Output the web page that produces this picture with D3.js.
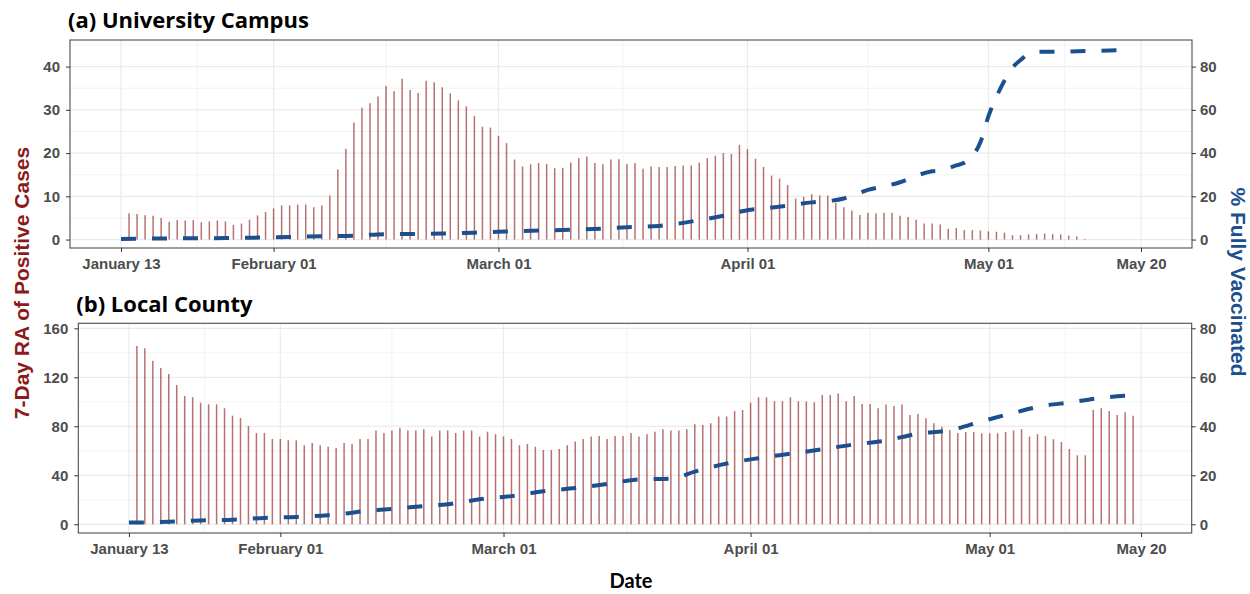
<!DOCTYPE html>
<html>
<head>
<meta charset="utf-8">
<script src="https://cdn.jsdelivr.net/npm/d3@7"></script>
<style>
  body { margin: 0; background: #fff; }
  svg text { font-family: "Liberation Sans", Arial, sans-serif; }
</style>
</head>
<body>
<svg id="chart" width="1250" height="594"></svg>
<script>
// ---- data ----
const tickDates = ["2021-01-13", "2021-02-01", "2021-03-01", "2021-04-01", "2021-05-01", "2021-05-20"];
const tickLabels = ["January 13", "February 01", "March 01", "April 01", "May 01", "May 20"];

// 7-day rolling average of positive cases, daily from Jan 14
const campusStart = "2021-01-14";
const campusCases = [
  6.1, 5.9, 5.6, 5.5, 5.0, 4.1, 4.5, 4.4, 4.5, 4.0, 4.2, 4.4, 4.2, 3.4, 3.7, 4.6, 5.6, 6.4,
  7.2, 7.9, 7.9, 8.1, 8.1, 7.5, 7.9, 10.2, 16.2, 21.0, 27.1, 30.5, 31.5, 33.1, 35.5, 34.3, 37.2, 34.6, 33.9, 36.7, 36.4, 35.2, 33.8, 32.2, 30.8, 28.6, 26.1, 25.9,
  24.0, 22.3, 18.5, 16.9, 17.4, 17.7, 17.5, 16.5, 16.6, 17.8, 18.8, 19.2, 17.7, 17.4, 18.5, 18.6, 17.5, 17.7, 16.4, 16.9, 16.8, 16.8, 17.0, 17.1, 17.1, 17.8, 18.8, 19.4, 20.0, 19.8, 21.9,
  20.9, 18.7, 16.8, 14.8, 14.1, 12.6, 9.5, 9.9, 10.5, 10.2, 10.2, 8.5, 7.5, 6.7, 5.7, 6.2, 6.0, 6.2, 6.2, 5.5, 5.2, 4.6, 3.7, 3.7, 3.5, 2.5, 2.7, 2.2, 2.2, 2.1,
  1.9, 1.8, 1.6, 1.0, 1.0, 1.2, 1.3, 1.4, 1.3, 1.2, 0.9, 0.7, 0.2
];

const countyStart = "2021-01-14";
const countyCases = [
  145.6, 143.7, 133.6, 127.6, 122.7, 113.7, 104.8, 103.7, 99.3, 98.0, 98.0, 94.7, 88.7, 86.8, 80.3, 74.6, 74.6, 69.7,
  69.7, 68.6, 68.6, 64.5, 66.4, 64.5, 63.4, 62.3, 66.4, 65.6, 69.7, 69.7, 76.5, 74.6, 76.5, 78.6, 76.5, 76.5, 77.6, 71.6, 76.5, 76.5, 74.6, 76.5, 76.5, 71.6, 75.5, 73.5,
  71.6, 69.7, 64.5, 65.6, 63.4, 60.7, 60.7, 61.5, 64.5, 67.5, 69.7, 71.6, 72.1, 69.7, 72.1, 72.1, 74.6, 71.6, 73.5, 75.5, 77.6, 76.5, 76.5, 77.6, 81.6, 81.1, 82.4, 87.9, 87.9, 92.5, 93.3,
  99.3, 103.7, 103.7, 100.4, 100.4, 103.7, 100.4, 100.3, 99.6, 105.6, 105.6, 106.8, 100.4, 104.8, 98.2, 98.2, 94.7, 97.7, 96.6, 97.7, 89.3, 90.1, 86.5, 82.4, 79.7, 77.0, 74.6, 75.4, 75.4, 74.3,
  74.3, 74.3, 75.4, 76.5, 77.6, 71.6, 73.5, 72.1, 69.4, 67.2, 61.5, 56.3, 56.3, 93.3, 94.7, 92.5, 89.3, 91.4, 88.7
];

// % fully vaccinated
const campusVacDates = ["2021-01-13", "2021-01-18", "2021-01-22", "2021-01-26", "2021-01-30", "2021-02-03", "2021-02-07", "2021-02-11", "2021-02-14", "2021-02-18", "2021-02-22", "2021-02-26", "2021-03-02", "2021-03-06", "2021-03-10", "2021-03-14", "2021-03-17", "2021-03-21", "2021-03-23", "2021-03-26", "2021-03-29", "2021-04-01", "2021-04-03", "2021-04-06", "2021-04-09", "2021-04-11", "2021-04-13", "2021-04-14", "2021-04-16", "2021-04-18", "2021-04-20", "2021-04-22", "2021-04-24", "2021-04-25", "2021-04-27", "2021-04-28", "2021-04-29", "2021-04-30", "2021-05-01", "2021-05-02", "2021-05-03", "2021-05-04", "2021-05-05", "2021-05-06", "2021-05-07", "2021-05-11", "2021-05-18"];
const campusVac = [0.3, 0.5, 0.6, 0.7, 0.9, 1.2, 1.5, 1.8, 2.4, 2.6, 2.8, 3.2, 3.7, 4.2, 4.5, 5.1, 5.7, 6.3, 7.2, 9.0, 11.0, 13.6, 14.4, 15.7, 17.2, 17.8, 19.0, 20.3, 23.0, 24.6, 26.5, 29.5, 31.6, 32.0, 34.3, 35.5, 38.5, 45.0, 57.0, 66.0, 73.5, 79.5, 83.0, 86.0, 86.8, 87.0, 87.7];

const countyVacDates = ["2021-01-13", "2021-01-18", "2021-01-22", "2021-01-26", "2021-01-30", "2021-02-03", "2021-02-07", "2021-02-10", "2021-02-11", "2021-02-14", "2021-02-18", "2021-02-22", "2021-02-26", "2021-03-02", "2021-03-06", "2021-03-10", "2021-03-14", "2021-03-18", "2021-03-22", "2021-03-25", "2021-03-29", "2021-04-02", "2021-04-06", "2021-04-10", "2021-04-14", "2021-04-18", "2021-04-22", "2021-04-26", "2021-04-30", "2021-05-04", "2021-05-08", "2021-05-11", "2021-05-15", "2021-05-19"];
const countyVac = [0.7, 1.0, 1.6, 1.9, 2.6, 3.0, 3.7, 4.7, 5.2, 6.0, 7.2, 8.2, 10.2, 11.5, 13.5, 14.8, 16.5, 18.3, 18.6, 21.5, 24.8, 27.0, 28.8, 30.6, 32.6, 34.2, 37.0, 38.4, 42.0, 45.5, 48.5, 49.7, 51.6, 52.7];

// ---- drawing ----
const parse = d3.timeParse("%Y-%m-%d");
const svg = d3.select("#chart");
const red = "#8B1A1A", blue = "#1B4F8E";

const panels = [
  { title: "(a) University Campus", titleY: 28, left: 70, top: 40, right: 1192, bottom: 248,
    start: campusStart, cases: campusCases, vacDates: campusVacDates, vac: campusVac,
    leftTicks: [0, 10, 20, 30, 40], leftMinor: [5, 15, 25, 35, 45], rightTicks: [0, 20, 40, 60, 80],
    rightDomain: [-3.9, 92.3], ratio: 0.5 },
  { title: "(b) Local County", titleY: 312, left: 78.3, top: 323.3, right: 1191.7, bottom: 533,
    start: countyStart, cases: countyCases, vacDates: countyVacDates, vac: countyVac,
    leftTicks: [0, 40, 80, 120, 160], leftMinor: [20, 60, 100, 140], rightTicks: [0, 20, 40, 60, 80],
    rightDomain: [-3.55, 82.04], ratio: 2 }
];

const dFirst = parse(tickDates[0]), dLast = parse(tickDates[tickDates.length - 1]);
const pad = (dLast - dFirst) * 0.05;
const minorDates = d3.range(tickDates.length - 1).map(i => new Date((+parse(tickDates[i]) + +parse(tickDates[i + 1])) / 2));

panels.forEach((p, pi) => {
  const x = d3.scaleTime()
    .domain([new Date(+dFirst - pad), new Date(+dLast + pad)])
    .range([p.left, p.right]);
  const yR = d3.scaleLinear().domain(p.rightDomain).range([p.bottom, p.top]);
  const yL = d3.scaleLinear().domain(p.rightDomain.map(v => v * p.ratio)).range([p.bottom, p.top]);

  const g = svg.append("g");
  g.append("clipPath").attr("id", "clip" + pi)
    .append("rect").attr("x", p.left).attr("y", p.top)
    .attr("width", p.right - p.left).attr("height", p.bottom - p.top);

  // grid
  const grid = g.append("g").attr("clip-path", `url(#clip${pi})`);
  grid.selectAll(".ymin").data(p.leftMinor).enter().append("line")
    .attr("x1", p.left).attr("x2", p.right)
    .attr("y1", d => yL(d)).attr("y2", d => yL(d))
    .attr("stroke", "#EBEBEB").attr("stroke-width", 0.6);
  grid.selectAll(".xmin").data(minorDates).enter().append("line")
    .attr("y1", p.top).attr("y2", p.bottom)
    .attr("x1", d => x(d)).attr("x2", d => x(d))
    .attr("stroke", "#EBEBEB").attr("stroke-width", 0.6);
  grid.selectAll(".ymaj").data(p.leftTicks).enter().append("line")
    .attr("x1", p.left).attr("x2", p.right)
    .attr("y1", d => yL(d)).attr("y2", d => yL(d))
    .attr("stroke", "#EBEBEB").attr("stroke-width", 1.2);
  grid.selectAll(".xmaj").data(tickDates).enter().append("line")
    .attr("y1", p.top).attr("y2", p.bottom)
    .attr("x1", d => x(parse(d))).attr("x2", d => x(parse(d)))
    .attr("stroke", "#EBEBEB").attr("stroke-width", 1.2);

  // bars
  const s = parse(p.start);
  const plot = g.append("g").attr("clip-path", `url(#clip${pi})`);
  plot.selectAll(".bar").data(p.cases).enter().append("line")
    .attr("x1", (d, i) => x(d3.timeDay.offset(s, i)))
    .attr("x2", (d, i) => x(d3.timeDay.offset(s, i)))
    .attr("y1", yL(0)).attr("y2", d => yL(d))
    .attr("stroke", red).attr("stroke-opacity", 0.62).attr("stroke-width", 1.5);

  // vaccination line
  const vacData = p.vacDates.map((d, i) => [parse(d), p.vac[i]]);
  plot.append("path").datum(vacData)
    .attr("d", d3.line().x(d => x(d[0])).y(d => yR(d[1])).curve(d3.curveMonotoneX))
    .attr("fill", "none").attr("stroke", blue).attr("stroke-width", 4)
    .attr("stroke-dasharray", "15 16");

  // border
  g.append("rect").attr("x", p.left).attr("y", p.top)
    .attr("width", p.right - p.left).attr("height", p.bottom - p.top)
    .attr("fill", "none").attr("stroke", "#4D4D4D").attr("stroke-width", 1.1);

  // axes
  const styleAxis = sel => {
    sel.select(".domain").remove();
    sel.selectAll(".tick line").attr("stroke", "#333");
    sel.selectAll(".tick text").attr("fill", "#4D4D4D")
      .style("font-size", "15px").style("font-weight", "bold")
      .style("font-family", "'Liberation Sans', Arial, sans-serif");
  };
  g.append("g").attr("transform", `translate(0,${p.bottom})`)
    .call(d3.axisBottom(x).tickValues(tickDates.map(parse))
      .tickFormat((d, i) => tickLabels[i]).tickSizeInner(4).tickPadding(6))
    .call(styleAxis);
  g.append("g").attr("transform", `translate(${p.left},0)`)
    .call(d3.axisLeft(yL).tickValues(p.leftTicks).tickSizeInner(4).tickPadding(6))
    .call(styleAxis);
  g.append("g").attr("transform", `translate(${p.right},0)`)
    .call(d3.axisRight(yR).tickValues(p.rightTicks).tickSizeInner(4).tickPadding(4))
    .call(styleAxis);

  // panel title
  svg.append("text").attr("x", p.left - 2).attr("y", p.titleY)
    .style("font-family", "'Open Sans', Lato, sans-serif")
    .style("font-weight", "bold").style("font-size", "22px")
    .attr("fill", "#000").text(p.title);
});

// axis titles
svg.append("text")
  .attr("transform", "translate(29,283) rotate(-90)")
  .attr("text-anchor", "middle")
  .style("font-size", "21px").style("font-weight", "bold")
  .attr("fill", red).text("7-Day RA of Positive Cases");

svg.append("text")
  .attr("transform", "translate(1231,282) rotate(90)")
  .attr("text-anchor", "middle")
  .style("font-size", "21px").style("font-weight", "bold")
  .attr("fill", blue).text("% Fully Vaccinated");

svg.append("text")
  .attr("x", 631).attr("y", 588)
  .attr("text-anchor", "middle")
  .style("font-family", "Lato, 'Open Sans', sans-serif")
  .style("font-weight", "bold").style("font-size", "20px")
  .attr("fill", "#000").text("Date");
</script>
</body>
</html>
